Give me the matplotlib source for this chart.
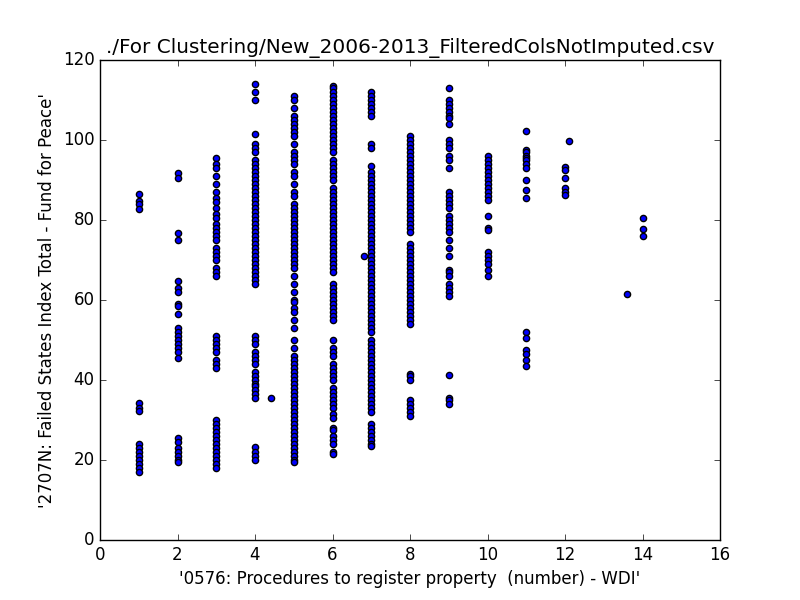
import numpy as np
import matplotlib
matplotlib.use("Agg")
import matplotlib.pyplot as plt

plt.style.use('classic')

# --- Daten: y-Werte je Anzahl Prozeduren ---
y_x1 = [86.5, 84.8, 84, 82.8, 34.3, 33, 32.3, 24, 23, 22, 21, 20, 19, 18, 17]
y_x2 = [91.8, 90.5, 76.8, 75, 64.8, 63, 62, 59, 58.5, 56.5, 53, 52, 51, 50, 49, 48, 47, 45.5,
        25.5, 24.5, 23, 22, 21, 20, 19.5]
y_x3 = [95.5, 94, 93, 91, 89, 87, 85.5, 84.5, 83, 81.5, 80.5, 79, 78, 77, 76, 75, 73, 72, 71, 70,
        68, 67, 66, 51, 50, 49, 48, 47, 45, 44, 43, 30, 29, 28, 27, 26, 25, 24, 23, 22, 21, 20,
        19, 18]
y_x4 = [114, 112, 110, 101.5, 99, 98, 97, 95, 94, 93, 92, 91, 90, 89, 88, 87, 86, 85, 84, 83, 82,
        81, 80, 79, 78, 77, 76, 75, 74, 73, 72, 71, 70, 69, 68, 67, 66, 65, 64, 51, 50, 49, 47,
        46, 45, 44, 42, 41, 40, 39, 38.5, 37.5, 36.5, 35.5, 23.3, 22, 21, 20]
y_x5 = [111, 110, 108, 106, 105, 104, 103, 102, 101, 99, 97, 96, 95, 94, 92, 91, 89, 87, 86, 84,
        83, 82, 81, 80, 79, 78, 77, 76, 75, 74, 73, 72, 71, 70, 69, 68, 66, 64, 62, 60, 59.5, 58,
        57, 55, 53, 50, 48, 46, 45, 44, 43, 42, 41, 40, 39, 38, 37, 36, 35, 34, 33, 32, 31, 30,
        29, 28, 27, 26, 25, 24, 23, 22, 21, 20, 19.5]
y_x6 = [113.5, 113, 112, 111, 110, 109, 108, 107, 106, 105, 104, 103, 102, 101, 100, 99, 98, 97,
        95, 94, 93, 92, 91, 90, 88, 87, 86, 85, 84, 83, 82, 81, 80, 79, 78, 77, 76, 75, 74, 73,
        72, 71, 70, 69, 68, 67, 64, 63, 62, 61, 60, 59, 58, 57, 56, 55, 50, 48, 47, 46, 44, 43,
        42, 41, 40, 38, 37, 36, 35, 34, 33, 31.5, 30.5, 28, 27.5, 26, 25, 24, 22, 21.5]
y_x7 = [112, 111, 110, 109, 108, 107, 106, 99, 98, 93.5, 92, 91, 90, 89, 88, 87, 86, 85, 84, 83,
        82, 81, 80, 79, 78, 77, 76, 75, 74, 73, 72, 71, 70, 69, 68, 67, 66, 65, 64, 63, 62, 61,
        60, 59, 58, 57, 56, 55, 54, 53, 52, 50, 49, 48, 47, 46, 45, 44, 43, 42, 41, 40, 39, 38,
        37, 36, 35, 34, 33, 32, 29, 28, 27, 26, 25, 24, 23.5]
y_x8 = [101, 100, 99, 98, 97, 96, 95, 94, 93, 92, 91, 90, 89, 88, 87, 86, 85, 84, 83, 82, 81, 80,
        79, 78, 77, 74, 73, 72, 71, 70, 69, 68, 67, 66, 65, 64, 63, 62, 61, 60, 59, 58, 57, 56,
        55, 54, 41.5, 41, 40, 35, 34, 33, 32, 31]
y_x9 = [113, 110, 109, 108, 107, 106, 105.5, 104, 100, 99, 98, 96, 95, 93, 87, 86, 85, 84, 83, 81,
        80, 79, 78, 77, 75, 73, 71, 67.5, 67, 66, 64, 63, 62, 61, 41.3, 35.5, 35, 34]
y_x10 = [96, 95, 94, 93, 92, 91, 90, 89, 88, 87, 86, 85, 81, 78, 77.5, 72, 71, 70, 69, 67.5, 66]
y_x11 = [102.3, 97.5, 97, 96, 95.5, 95, 94, 93, 90, 87.5, 85.5, 52, 50.5, 47.5, 46.5, 45, 43.5]
y_x12 = [93.3, 92.5, 90.5, 88, 87, 86.3]
y_x14 = [80.5, 77.8, 75.9]

# vereinzelte Punkte abseits der ganzen Zahlen
x_single = [4.4, 6.8, 12.1, 13.6]
y_single = [35.5, 71, 99.7, 61.4]

columns = [(1, y_x1), (2, y_x2), (3, y_x3), (4, y_x4), (5, y_x5), (6, y_x6), (7, y_x7),
           (8, y_x8), (9, y_x9), (10, y_x10), (11, y_x11), (12, y_x12), (14, y_x14)]

xs, ys = [], []
for x_val, y_vals in columns:
    xs += [x_val] * len(y_vals)
    ys += y_vals
xs += x_single
ys += y_single

fig, ax = plt.subplots(figsize=(8, 6), dpi=100)
ax.scatter(xs, ys, c='b', edgecolors='k', s=20)
ax.set_xlim(0, 16)
ax.set_ylim(0, 120)
ax.set_title('./For Clustering/New_2006-2013_FilteredColsNotImputed.csv')
ax.set_xlabel("'0576: Procedures to register property  (number) - WDI'")
ax.set_ylabel("'2707N: Failed States Index Total - Fund for Peace'")
plt.savefig('out.png', dpi=100)
